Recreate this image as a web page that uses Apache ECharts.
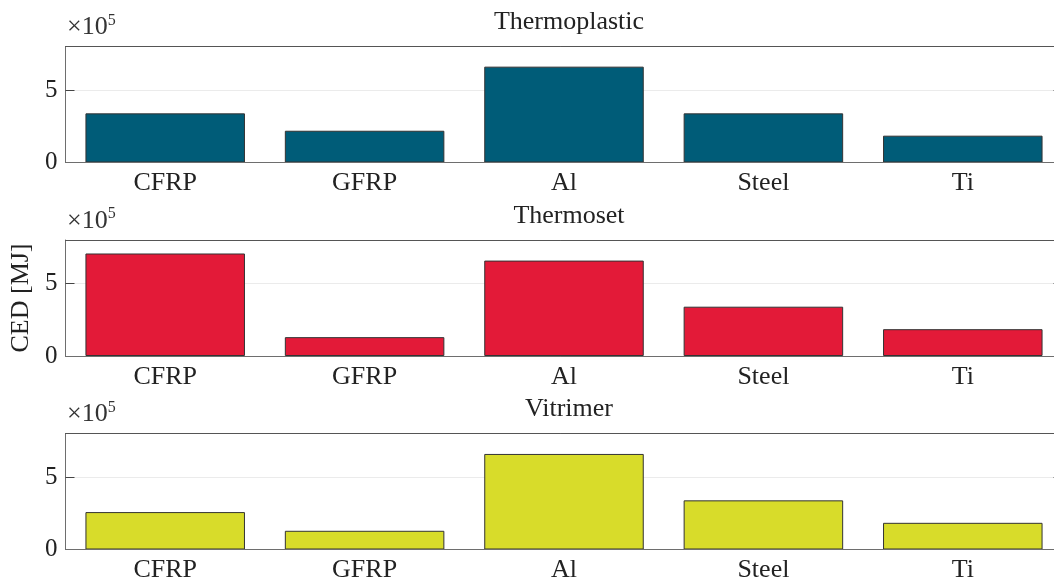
<!DOCTYPE html>
<html>
<head>
<meta charset="utf-8">
<script src="https://cdn.jsdelivr.net/npm/echarts@6/dist/echarts.min.js"></script>
<style>html,body{margin:0;padding:0;background:#fff;overflow:hidden}#c{width:1054px;height:582px}</style>
</head>
<body>
<div id="c"></div>
<script>
const categories = ['CFRP', 'GFRP', 'Al', 'Steel', 'Ti'];
const panelTitles = ['Thermoplastic', 'Thermoset', 'Vitrimer'];
const thermoplastic = [339000, 219000, 661000, 339000, 185000];
const thermoset = [707000, 130000, 658000, 340000, 185000];
const vitrimer = [258000, 129000, 659000, 339000, 184000];
const panelColors = ['#005c78', '#e31a38', '#d8dc2a'];
const yTicks = [0, 500000];
const yLabel = 'CED [MJ]';

const seriesData = [thermoplastic, thermoset, vitrimer];
const FONT = 'Liberation Serif';
const tops = [46.5, 240, 433.5];
const H = 116;
const axisCol = '#6e6e6e';

const grids = [], xAxes = [], yAxes = [], series = [], titles = [];
for (let i = 0; i < 3; i++) {
  grids.push({left: 65.5, width: 997, top: tops[i], height: H, containLabel: false, outerBoundsMode: 'none'});
  titles.push({text: panelTitles[i], left: 564, top: tops[i] - 42, textAlign: 'center',
    textStyle: {fontFamily: FONT, fontSize: 26, fontWeight: 'normal', color: '#222'}});
  xAxes.push({type: 'category', gridIndex: i, data: categories, position: 'bottom', z: 5,
    axisLine: {onZero: false, lineStyle: {color: axisCol, width: 1}},
    axisTick: {inside: true, length: 9, alignWithLabel: true, lineStyle: {color: '#444'}},
    axisLabel: {fontFamily: FONT, fontSize: 26, color: '#222', margin: 8},
    splitLine: {show: false}});
  xAxes.push({type: 'category', gridIndex: i, data: categories, position: 'top', z: 5,
    axisLine: {onZero: false, lineStyle: {color: '#555', width: 1}},
    axisTick: {inside: true, length: 9, alignWithLabel: true, lineStyle: {color: '#555'}},
    axisLabel: {show: false}, splitLine: {show: false}});
  yAxes.push({type: 'value', gridIndex: i, min: 0, max: 800000, interval: 500000, position: 'left',
    name: i === 1 ? yLabel : '', nameLocation: 'middle', nameGap: 28,
    nameTextStyle: {fontFamily: FONT, fontSize: 26, color: '#222'},
    axisLine: {show: true, onZero: false, lineStyle: {color: axisCol, width: 1}},
    axisTick: {show: true, inside: true, length: 9, lineStyle: {color: '#444'}},
    axisLabel: {fontFamily: FONT, fontSize: 25, color: '#222', margin: 8, showMaxLabel: false,
      formatter: v => yTicks.includes(v) ? String(v / 1e5) : ''},
    splitLine: {show: true, lineStyle: {color: '#ebebeb', width: 1}}});
  yAxes.push({type: 'value', gridIndex: i, min: 0, max: 800000, interval: 500000, position: 'right',
    axisLine: {show: true, onZero: false, lineStyle: {color: '#555'}},
    axisTick: {show: true, inside: true, length: 9, lineStyle: {color: '#555'}},
    axisLabel: {show: false}, splitLine: {show: false}});
  series.push({type: 'bar', xAxisIndex: 2 * i, yAxisIndex: 2 * i, data: seriesData[i],
    barWidth: '80%', itemStyle: {color: panelColors[i], borderColor: '#333', borderWidth: 1},
    emphasis: {disabled: true}, z: 2});
}

const graphics = tops.map(t => ({
  type: 'text', left: 67, top: t - 34,
  style: {rich: {a: {fontFamily: FONT, fontSize: 26, fill: '#333'}, s: {fontFamily: FONT, fontSize: 16, fill: '#333', padding: [0, 0, 14, 0]}},
    text: '{a|×10}{s|5}'}
}));

const chart = echarts.init(document.getElementById('c'), null, {renderer: 'canvas'});
chart.setOption({
  animation: false,
  title: titles,
  grid: grids,
  xAxis: xAxes,
  yAxis: yAxes,
  series: series,
  graphic: graphics
});
</script>
</body>
</html>
